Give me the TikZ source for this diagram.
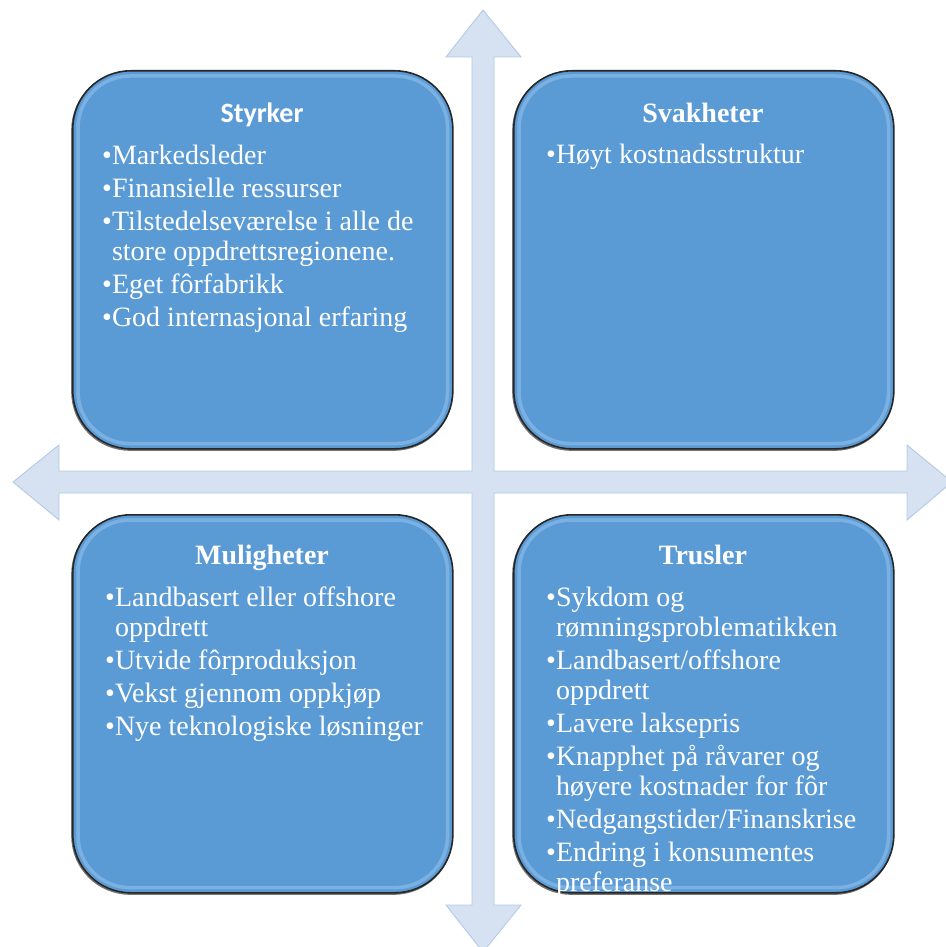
\documentclass[tikz,border=0pt]{standalone}
\usepackage{fontspec}
\setmainfont{Liberation Serif}
\newfontfamily\titlesans{Carlito}
\definecolor{quadblue}{RGB}{91,155,213}
\definecolor{quadgloss}{RGB}{160,205,244}
\definecolor{crossfill}{RGB}{214,226,241}
\definecolor{crossline}{RGB}{178,202,230}
\newcommand\cont{\phantom{\textbullet}}
% first line of every list starts with a strut: its top lies 21pt above the baseline
\newcommand\first{\strut\textbullet}
\begin{document}
\begin{tikzpicture}[x=1pt,y=-1pt,
  quad/.style={draw=black!85, line width=1.6pt, fill=quadblue, rounded corners=58pt,
    minimum width=380pt, minimum height=378pt, anchor=north west, inner sep=0pt},
  quadshadow/.style={draw=black!55, line width=1.6pt, rounded corners=58pt},
  gloss/.style={draw=quadgloss, line width=3.5pt, rounded corners=52pt, opacity=0.45},
  cross/.style={fill=crossfill, draw=crossline, line width=0.9pt, line join=miter},
  ttl/.style={text=white, font=\fontsize{28}{30}\selectfont\bfseries, anchor=base, inner sep=0pt},
  ttlsans/.style={ttl, font=\titlesans\fontsize{28}{30}\selectfont\bfseries},
  items/.style={text=white, font=\fontsize{28}{30}\selectfont, align=left, anchor=north west, inner sep=0pt}
]
\useasboundingbox (0,0) rectangle (945,947);

% the four-way arrow cross behind the quadrants
\draw[cross] (483,10) -- (521,57) -- (494,57) -- (494,471) -- (907,471) -- (907,445)
  -- (952,482) -- (907,520) -- (907,493) -- (494,493) -- (494,905) -- (521,905)
  -- (483,952) -- (446,905) -- (472,905) -- (472,493) -- (59,493) -- (59,520)
  -- (13,482) -- (59,445) -- (59,471) -- (472,471) -- (472,57) -- (446,57) -- cycle;

% quadrant boxes
\foreach \x/\y in {72/70, 513/70, 72/514, 513/514}{
  \draw[quadshadow] (\x,\y+2) rectangle (\x+380,\y+380);
}
\node[quad] (S) at (72,70) {};
\node[quad] (W) at (513,70) {};
\node[quad] (O) at (72,514) {};
\node[quad] (T) at (513,514) {};
\foreach \b in {S,W,O,T}{
  \draw[gloss] ([shift={(6,6)}]\b.north west) rectangle ([shift={(-6,-6)}]\b.south east);
}

% headings
\node[ttlsans] (Sh) at (262,123) {Styrker};
\node[ttl] (Wh) at (703,123) {Svakheter};
\node[ttl] (Oh) at (262,564) {Muligheter};
\node[ttl] (Th) at (703,564) {Trusler};

% item lists (placed by the top of the first line, baseline minus 21pt)
\node[items] (Sl) at (102,143) {%
  \first Markedsleder\\[3pt]
  \textbullet Finansielle ressurser\\[3pt]
  \textbullet Tilstedelseværelse i alle de\\
  \cont store oppdrettsregionene.\\[3pt]
  \textbullet Eget fôrfabrikk\\[3pt]
  \textbullet God internasjonal erfaring};
\node[items] (Wl) at (546,142) {\first Høyt kostnadsstruktur};
\node[items] (Ol) at (105,585) {%
  \first Landbasert eller offshore\\
  \cont oppdrett\\[3pt]
  \textbullet Utvide fôrproduksjon\\[3pt]
  \textbullet Vekst gjennom oppkjøp\\[3pt]
  \textbullet Nye teknologiske løsninger};
\node[items] (Tl) at (546,585) {%
  \first Sykdom og\\
  \cont rømningsproblematikken\\[3pt]
  \textbullet Landbasert/offshore\\
  \cont oppdrett\\[3pt]
  \textbullet Lavere laksepris\\[3pt]
  \textbullet Knapphet på råvarer og\\
  \cont høyere kostnader for fôr\\[3pt]
  \textbullet Nedgangstider/Finanskrise\\[3pt]
  \textbullet Endring i konsumentes\\
  \cont preferanse};
\end{tikzpicture}
\end{document}
